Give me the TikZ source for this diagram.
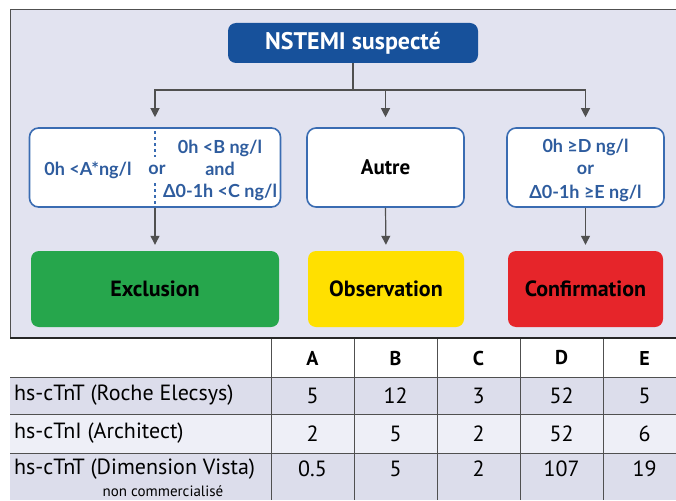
\documentclass[tikz,border=0pt]{standalone}
\usepackage{fontspec}
\setmainfont{PT Sans}
\newfontfamily\condfont{Lato}
\usepackage{tikz}
\usetikzlibrary{arrows.meta}
\definecolor{panelbg}{RGB}{226,227,240}
\definecolor{navy}{RGB}{23,81,155}
\definecolor{condblue}{RGB}{46,92,158}
\definecolor{boxline}{RGB}{58,108,178}
\definecolor{exclgreen}{RGB}{38,166,76}
\definecolor{obsyellow}{RGB}{255,224,0}
\definecolor{confred}{RGB}{230,37,42}
\definecolor{rowdark}{RGB}{220,221,235}
\definecolor{rowlight}{RGB}{238,239,247}
\definecolor{gridgray}{RGB}{80,80,80}
\tikzset{
  condbox/.style={draw=boxline, line width=1.6pt, fill=white, rounded corners=9pt,
    minimum height=79pt, inner sep=0pt},
  resbox/.style={rounded corners=8pt, minimum height=76pt, inner sep=0pt,
    font=\fontsize{22}{26}\selectfont\bfseries},
  condtxt/.style={text=condblue, font=\condfont\fontsize{18}{21}\selectfont\bfseries, inner sep=0pt},
  flow/.style={draw=gridgray, line width=1.2pt, -{Triangle[length=9pt,width=9pt]}},
  cell/.style={font=\fontsize{22}{26}\selectfont, inner sep=0pt},
  headcell/.style={font=\fontsize{20}{24}\selectfont\bfseries, inner sep=0pt}
}
\begin{document}
\begin{tikzpicture}[x=1pt,y=-1pt]
\useasboundingbox (0,0) rectangle (676,500);
% panel
\fill [panelbg] (10,10) rectangle (676,338);
\draw [gridgray, line width=1pt] (676,10) -- (10,10) -- (10,500);

\node [fill=navy, rounded corners=8pt, minimum width=250pt, minimum height=40pt,
  text=white, font=\fontsize{24}{28}\selectfont\bfseries] (nstemi) at (353,43) {NSTEMI suspecté};

\node [condbox, minimum width=251pt] (excl) at (155,167.5) {};
\node [condbox, minimum width=157pt] (autre) at (385.5,167.5) {};
\node [condbox, minimum width=157pt] (conf) at (585.5,167.5) {};

\node [resbox, fill=exclgreen, minimum width=248pt] (rexcl) at (155,289) {Exclusion};
\node [resbox, fill=obsyellow, minimum width=156pt] (robs) at (386,289) {Observation};
\node [resbox, fill=confred, minimum width=155pt] (rconf) at (585.5,289) {Confirmation};

% connectors
\coordinate (hub) at (nstemi.south |- 0,90);
\draw [gridgray, line width=1.2pt] (nstemi.south) -- (hub);
\draw [flow, shorten >=10pt] (hub) -| (excl.north);
\draw [flow, shorten >=10pt] (hub) -| (autre.north);
\draw [flow, shorten >=10pt] (hub) -| (conf.north);
\draw [flow, shorten >=6pt] (excl.south) -- (rexcl.north);
\draw [flow, shorten >=6pt] (autre.south) -- (robs.north);
\draw [flow, shorten >=6pt] (conf.south) -- (rconf.north);

% exclusion criteria
\draw [boxline, line width=1.2pt, dash pattern=on 3pt off 3pt] (excl.north) ++(0,4) -- ++(0,26);
\draw [boxline, line width=1.2pt, dash pattern=on 3pt off 3pt] (excl.south) ++(0,-4) -- ++(0,-22);
\node [condtxt] (a0) at (88,170) {0h <A*ng/l};
\node [condtxt] (aor) at (157,170) {or};
\node [condtxt] (b0) at (220,148) {0h <B ng/l};
\node [condtxt] (band) at (220,169) {and};
\node [condtxt] (c0) at (220,192) {Δ0-1h <C ng/l};

\node [font=\fontsize{21}{24}\selectfont\bfseries] (autretxt) at (autre) {Autre};

\node [condtxt] (d0) at (585.5,147) {0h ≥D ng/l};
\node [condtxt] (dor) at (585.5,170) {or};
\node [condtxt] (e0) at (585.5,193) {Δ0-1h ≥E ng/l};

% table
\fill [white] (10,338) rectangle (676,377);
\fill [rowdark] (10,377) rectangle (676,414);
\fill [rowlight] (10,414) rectangle (676,453);
\fill [rowdark] (10,453) rectangle (676,500);
\draw [gridgray, line width=1pt] (10,377) -- (676,377) (10,414) -- (676,414) (10,453) -- (676,453);
\foreach \xc in {271,354,437,520,603}
  \draw [gridgray, line width=1pt] (\xc,338) -- (\xc,500);
\draw [black!85, line width=2pt] (10,338) -- (676,338);

\foreach \h [count=\i] in {A,B,C,D,E}
  \node [headcell] (h\h) at (229.5+83*\i,358) {\h};

\node [cell, anchor=west] (roche) at (14,395.5) {hs-cTnT (Roche Elecsys)};
\foreach \v [count=\i] in {5,12,3,52,5}
  \node [cell] (r1c\i) at (229.5+83*\i,395.5) {\v};
\node [cell, anchor=west] (archi) at (14,433.5) {hs-cTnI (Architect)};
\foreach \v [count=\i] in {2,5,2,52,6}
  \node [cell] (r2c\i) at (229.5+83*\i,433.5) {\v};
\node [cell, anchor=west] (vista) at (14,469) {hs-cTnT (Dimension Vista)};
\foreach \v [count=\i] in {0.5,5,2,107,19}
  \node [cell] (r3c\i) at (229.5+83*\i,469) {\v};
\node [font=\fontsize{15}{18}\selectfont, inner sep=0pt] (noncom) at (163,491) {non commercialisé};
\end{tikzpicture}
\end{document}
